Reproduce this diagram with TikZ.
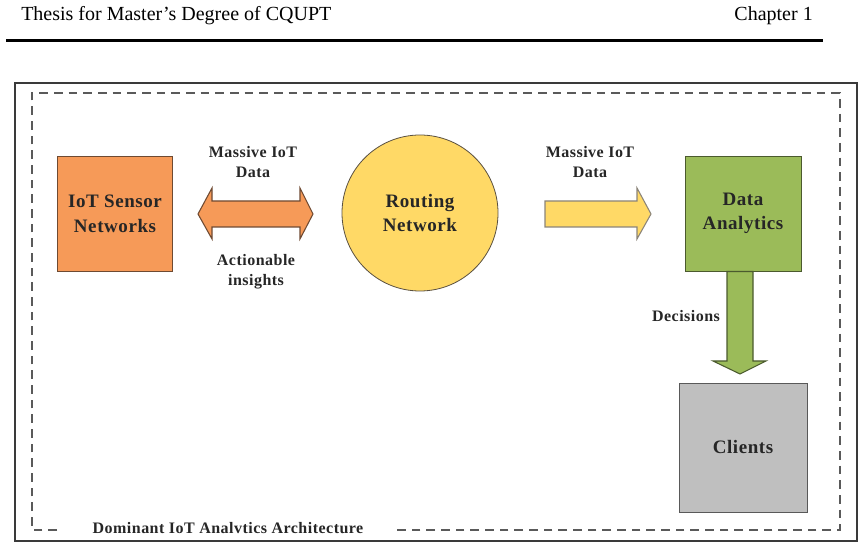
\documentclass[tikz,border=0pt]{standalone}
\usepackage{fontspec}
\setmainfont{Liberation Serif}
\newfontfamily\boxfont[LetterSpace=3]{Liberation Serif}
\usetikzlibrary{shapes.geometric}
\definecolor{orangefill}{HTML}{F69A58}
\definecolor{orangeline}{HTML}{6E4A32}
\definecolor{goldfill}{HTML}{FFD966}
\definecolor{goldline}{HTML}{5A5040}
\definecolor{greenfill}{HTML}{9BBB59}
\definecolor{greenline}{HTML}{4B5A2E}
\definecolor{grayfill}{HTML}{BFBFBF}
\definecolor{grayline}{HTML}{595959}
\definecolor{framecol}{HTML}{3A3A3A}
\definecolor{dashcol}{HTML}{5A5A5A}
\tikzset{
  boxtext/.style={font=\boxfont\bfseries\fontsize{14.25}{18.5}\selectfont, align=center, text=black!85},
  lbltext/.style={font=\boxfont\bfseries\fontsize{12}{15}\selectfont, align=center, text=black!85},
  blockarrow/.style={line width=0.8pt, line join=miter},
}
\begin{document}
\begin{tikzpicture}[x=0.75pt,y=-0.75pt]
\useasboundingbox (0,0) rectangle (863,548);
% header
\node[anchor=base west, inner sep=0pt, font=\fontsize{15}{18}\selectfont] (hl) at (21,21) {Thesis for Master’s Degree of CQUPT};
\node[anchor=base east, inner sep=0pt, font=\fontsize{15}{18}\selectfont] (hr) at (813,21) {Chapter 1};
\draw[line width=1.6pt] (6,40.5) -- (823,40.5);
% outer frame
\draw[framecol, line width=1.3pt] (15,83) rectangle (857,541);
% dashed frame
\draw[dashcol, line width=0.8pt, dash pattern=on 6.5pt off 4.5pt]
  (57,530) -- (32,530) -- (32,93) -- (840,93) -- (840,530) -- (397,530);
\node[lbltext] (cap) at (228,528) {Dominant IoT Analvtics Architecture};
% nodes
\node[draw=orangeline, fill=orangefill, line width=0.6pt, minimum width=115*0.75pt, minimum height=115*0.75pt, inner sep=0pt, boxtext] (iot) at (115,214) {IoT Sensor\\Networks};
\node[circle, draw=goldline, fill=goldfill, line width=0.6pt, minimum size=156*0.75pt, inner sep=0pt, boxtext] (route) at (420,213) {Routing\\Network};
\node[draw=greenline, fill=greenfill, line width=0.6pt, minimum width=116*0.75pt, minimum height=115*0.75pt, inner sep=0pt, boxtext] (data) at (743,213.5) {Data\\Analytics};
\node[draw=grayline, fill=grayfill, line width=0.6pt, minimum width=128*0.75pt, minimum height=129*0.75pt, inner sep=0pt, boxtext] (clients) at (743,447.5) {Clients};
% double arrow
\filldraw[blockarrow, draw=orangeline, fill=orangefill]
  (198,214) -- (212,188) -- (212,201) -- (300,201) -- (300,188) -- (313,214)
  -- (300,239) -- (300,227) -- (212,227) -- (212,239) -- cycle;
% right arrow
\filldraw[blockarrow, draw=goldline!70, fill=goldfill]
  (545,201) -- (637,201) -- (637,188) -- (651,214) -- (637,239) -- (637,227) -- (545,227) -- cycle;
% down arrow
\filldraw[blockarrow, draw=greenline, fill=greenfill]
  (727,271.5) -- (753,271.5) -- (753,361) -- (766,361) -- (740,374) -- (713,361) -- (727,361) -- cycle;
% labels
\node[lbltext] (l1) at (253,162) {Massive IoT\\Data};
\node[lbltext] (l2) at (256,272) {Actionable\\insights};
\node[lbltext] (l3) at (590,162) {Massive IoT\\Data};
\node[lbltext] (l4) at (686,316) {Decisions};
\end{tikzpicture}
\end{document}
